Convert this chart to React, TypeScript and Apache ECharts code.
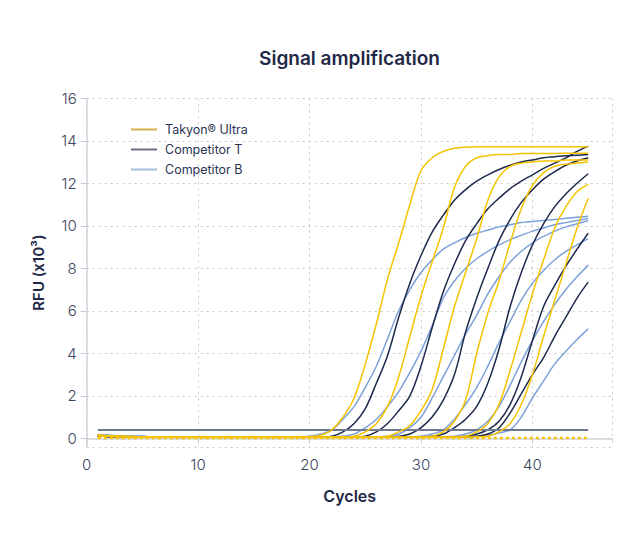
import React, { useEffect, useRef } from "react";
import * as echarts from "echarts";

const cycles = [1,2,3,4,5,6,7,8,9,10,11,12,13,14,15,16,17,18,19,20,21,22,23,24,25,26,27,28,29,30,31,32,33,34,35,36,37,38,39,40,41,42,43,44,45];

// Takyon Ultra (RFU x10^3 per cycle)
const takyon1 = [0.15,0.12,0.1,0.08,0.07,0.06,0.05,0.05,0.05,0.05, 0.05,0.05,0.05,0.05,0.05,0.05,0.05,0.05,0.05,0.08, 0.15,0.4,1.0,1.9,3.5,5.4,7.5,9.2,11.0,12.6, 13.2,13.5,13.65,13.7,13.72,13.72,13.72,13.72,13.72,13.72, 13.72,13.72,13.72,13.72,13.72];
const takyon2 = [0.14,0.11,0.09,0.08,0.07,0.06,0.05,0.05,0.05,0.05, 0.05,0.05,0.05,0.05,0.05,0.05,0.05,0.05,0.05,0.05, 0.05,0.05,0.06,0.1,0.3,0.7,1.5,2.9,4.8,6.7, 8.3,9.9,11.8,12.8,13.2,13.3,13.35,13.35,13.4,13.4, 13.4,13.4,13.42,13.42,13.42];
const takyon3 = [0.13,0.1,0.08,0.07,0.06,0.05,0.05,0.05,0.04,0.04, 0.04,0.04,0.04,0.04,0.04,0.04,0.04,0.04,0.04,0.04, 0.04,0.04,0.04,0.04,0.05,0.06,0.1,0.3,0.6,1.3, 2.3,4.2,6.2,7.8,9.4,11.2,12.3,12.8,12.95,13.0, 13.05,13.05,13.1,13.1,13.1];
const takyon4 = [0.12,0.1,0.08,0.07,0.06,0.05,0.05,0.05,0.05,0.05, 0.05,0.05,0.05,0.05,0.05,0.05,0.05,0.05,0.05,0.05, 0.05,0.05,0.05,0.05,0.05,0.05,0.05,0.05,0.06,0.07, 0.1,0.3,0.8,1.8,4.0,5.9,7.4,9.2,10.8,11.9, 12.5,12.8,12.9,12.95,13.0];
const takyon5 = [0.14,0.11,0.09,0.07,0.06,0.05,0.05,0.05,0.05,0.05, 0.05,0.05,0.05,0.05,0.05,0.05,0.05,0.05,0.05,0.05, 0.05,0.05,0.05,0.05,0.05,0.05,0.05,0.05,0.05,0.05, 0.05,0.06,0.07,0.1,0.3,0.7,1.6,3.2,5.0,6.8, 8.4,9.9,10.9,11.6,11.95];
const takyon6 = [0.13,0.1,0.08,0.07,0.06,0.05,0.05,0.05,0.05,0.05, 0.05,0.05,0.05,0.05,0.05,0.05,0.05,0.05,0.05,0.05, 0.05,0.05,0.05,0.05,0.05,0.05,0.05,0.05,0.05,0.05, 0.05,0.05,0.05,0.06,0.07,0.1,0.3,0.7,1.6,3.0, 4.8,6.5,8.2,9.9,11.3];
const takyonNtc = [0.02,0.02,0.02,0.02,0.02,0.02,0.02,0.02,0.02,0.02, 0.02,0.02,0.02,0.02,0.02,0.02,0.02,0.02,0.02,0.02, 0.02,0.02,0.02,0.02,0.02,0.02,0.02,0.02,0.02,0.02, 0.02,0.02,0.02,0.02,0.02,0.02,0.02,0.02,0.02,0.02, 0.02,0.02,0.02,0.02,0.02];

// Competitor T
const compT1 = [0.12,0.1,0.08,0.07,0.06,0.05,0.05,0.05,0.05,0.05, 0.05,0.05,0.05,0.05,0.05,0.05,0.05,0.05,0.05,0.05, 0.06,0.1,0.3,0.7,1.4,2.6,3.9,5.7,7.3,8.6, 9.7,10.5,11.2,11.7,12.1,12.4,12.65,12.85,13.0,13.1, 13.2,13.25,13.3,13.32,13.35];
const compT2 = [0.1,0.09,0.08,0.07,0.06,0.05,0.05,0.05,0.05,0.05, 0.05,0.05,0.05,0.05,0.05,0.05,0.05,0.05,0.05,0.05, 0.05,0.05,0.05,0.06,0.1,0.3,0.7,1.3,2.0,3.4, 5.2,6.9,8.2,9.3,10.1,10.8,11.3,11.75,12.1,12.4, 12.7,12.95,13.2,13.5,13.75];
const compT3 = [0.11,0.09,0.08,0.07,0.06,0.05,0.05,0.05,0.05,0.05, 0.05,0.05,0.05,0.05,0.05,0.05,0.05,0.05,0.05,0.05, 0.05,0.05,0.05,0.05,0.05,0.05,0.06,0.1,0.2,0.5, 1.0,1.8,3.0,5.0,6.6,8.0,9.3,10.3,11.1,11.7, 12.2,12.55,12.85,13.05,13.2];
const compT4 = [0.11,0.09,0.08,0.07,0.06,0.05,0.05,0.05,0.05,0.05, 0.05,0.05,0.05,0.05,0.05,0.05,0.05,0.05,0.05,0.05, 0.05,0.05,0.05,0.05,0.05,0.05,0.05,0.05,0.05,0.06, 0.1,0.2,0.5,0.9,1.5,2.6,4.2,6.2,7.8,9.1, 10.1,10.9,11.5,12.0,12.45];
const compT5 = [0.11,0.09,0.08,0.07,0.06,0.05,0.05,0.05,0.05,0.05, 0.05,0.05,0.05,0.05,0.05,0.05,0.05,0.05,0.05,0.05, 0.05,0.05,0.05,0.05,0.05,0.05,0.05,0.05,0.05,0.05, 0.05,0.05,0.06,0.1,0.2,0.4,0.8,1.6,2.9,4.6, 6.2,7.2,8.1,8.9,9.65];
const compT6 = [0.11,0.09,0.08,0.07,0.06,0.05,0.05,0.05,0.05,0.05, 0.05,0.05,0.05,0.05,0.05,0.05,0.05,0.05,0.05,0.05, 0.05,0.05,0.05,0.05,0.05,0.05,0.05,0.05,0.05,0.05, 0.05,0.05,0.05,0.06,0.1,0.2,0.5,1.2,2.1,3.0, 3.8,4.8,5.7,6.6,7.35];
const compTNtc = [0.39,0.39,0.39,0.39,0.39,0.39,0.39,0.39,0.39,0.39, 0.39,0.39,0.39,0.39,0.39,0.39,0.39,0.39,0.39,0.39, 0.39,0.39,0.39,0.39,0.39,0.39,0.39,0.39,0.39,0.39, 0.39,0.39,0.39,0.39,0.39,0.39,0.39,0.39,0.39,0.39, 0.39,0.39,0.39,0.39,0.39];

// Competitor B
const compB1 = [0.18,0.14,0.11,0.09,0.08,0.07,0.06,0.06,0.06,0.06, 0.06,0.06,0.06,0.06,0.06,0.06,0.06,0.06,0.07,0.1, 0.2,0.4,0.9,1.5,2.4,3.4,4.7,6.0,7.0,7.8, 8.4,8.9,9.2,9.45,9.65,9.8,9.95,10.05,10.15,10.2, 10.25,10.3,10.35,10.4,10.45];
const compB2 = [0.17,0.13,0.1,0.09,0.08,0.07,0.06,0.06,0.06,0.06, 0.06,0.06,0.06,0.06,0.06,0.06,0.06,0.06,0.06,0.06, 0.06,0.07,0.1,0.2,0.5,0.9,1.5,2.2,3.1,4.1, 5.3,6.6,7.4,8.0,8.45,8.8,9.1,9.35,9.55,9.75, 9.9,10.05,10.15,10.25,10.35];
const compB3 = [0.16,0.12,0.1,0.09,0.08,0.07,0.06,0.06,0.06,0.06, 0.06,0.06,0.06,0.06,0.06,0.06,0.06,0.06,0.06,0.06, 0.06,0.06,0.06,0.06,0.06,0.07,0.1,0.2,0.5,1.0, 1.9,2.9,3.9,4.9,5.8,6.8,7.6,8.3,8.8,9.2, 9.5,9.75,9.95,10.1,10.25];
const compB4 = [0.15,0.12,0.1,0.09,0.08,0.07,0.06,0.06,0.06,0.06, 0.06,0.06,0.06,0.06,0.06,0.06,0.06,0.06,0.06,0.06, 0.06,0.06,0.06,0.06,0.06,0.06,0.06,0.06,0.07,0.1, 0.2,0.4,0.9,1.6,2.4,3.4,4.5,5.5,6.5,7.3, 7.9,8.4,8.8,9.1,9.4];
const compB5 = [0.15,0.12,0.1,0.09,0.08,0.07,0.06,0.06,0.06,0.06, 0.06,0.06,0.06,0.06,0.06,0.06,0.06,0.06,0.06,0.06, 0.06,0.06,0.06,0.06,0.06,0.06,0.06,0.06,0.06,0.06, 0.06,0.07,0.1,0.2,0.4,0.8,1.5,2.5,3.6,4.6, 5.5,6.3,7.0,7.6,8.15];
const compB6 = [0.15,0.12,0.1,0.09,0.08,0.07,0.06,0.06,0.06,0.06, 0.06,0.06,0.06,0.06,0.06,0.06,0.06,0.06,0.06,0.06, 0.06,0.06,0.06,0.06,0.06,0.06,0.06,0.06,0.06,0.06, 0.06,0.06,0.06,0.07,0.1,0.15,0.25,0.4,1.0,1.9, 2.7,3.5,4.1,4.65,5.15];

const NAME_TAKYON = "Takyon® Ultra";
const NAME_T = "Competitor T";
const NAME_B = "Competitor B";

const takyonCurves = [takyon1, takyon2, takyon3, takyon4, takyon5, takyon6];
const compTCurves = [compT1, compT2, compT3, compT4, compT5, compT6];
const compBCurves = [compB1, compB2, compB3, compB4, compB5, compB6];

const COLOR_Y = "#f5c300";
const COLOR_T = "#1e2a4c";
const COLOR_B = "#7da1da";
const FONT = "Inter, 'Noto Sans', sans-serif";
const LEGEND_ICON = "path://M0,0h26v2h-26z";

function pairs(values: number[]) {
  return cycles.map((c, i) => [c, values[i]]);
}

export default function App() {
  const ref = useRef<HTMLDivElement>(null);
  useEffect(() => {
    document.body.style.margin = "0";
    if (!ref.current) return;
    const chart = echarts.init(ref.current, undefined, { renderer: "svg" });
    const base = {
      type: "line",
      symbol: "none",
      showSymbol: false,
      smooth: 0.35,
      emphasis: { disabled: true },
    };
    const series: any[] = [];
    compBCurves.forEach((v) =>
      series.push({ ...base, name: NAME_B, data: pairs(v), lineStyle: { color: COLOR_B, width: 1.5 }, itemStyle: { color: COLOR_B } })
    );
    compTCurves.forEach((v) =>
      series.push({ ...base, name: NAME_T, data: pairs(v), lineStyle: { color: COLOR_T, width: 1.5 }, itemStyle: { color: COLOR_T } })
    );
    series.push({ ...base, smooth: false, name: NAME_T, data: pairs(compTNtc), lineStyle: { color: "#6f7891", width: 2 }, itemStyle: { color: "#6f7891" } });
    takyonCurves.forEach((v) =>
      series.push({ ...base, name: NAME_TAKYON, data: pairs(v), lineStyle: { color: COLOR_Y, width: 1.5 }, itemStyle: { color: COLOR_Y } })
    );
    series.push({ ...base, smooth: false, name: NAME_TAKYON, data: pairs(takyonNtc), lineStyle: { color: COLOR_Y, width: 2.5, type: [3, 3] }, itemStyle: { color: COLOR_Y } });

    chart.setOption({
      animation: false,
      textStyle: { fontFamily: FONT },
      graphic: [
        {
          type: "text",
          x: 349.5,
          y: 58,
          style: {
            text: "Signal amplification",
            fontFamily: FONT,
            fontSize: 19,
            fontWeight: 600,
            fill: "#1f2847",
            textAlign: "center",
            textVerticalAlign: "middle",
          },
        },
      ],
      legend: {
        orient: "vertical",
        left: 126,
        top: 118,
        itemWidth: 26,
        itemHeight: 14,
        itemGap: 7,
        selectedMode: false,
        textStyle: { fontFamily: FONT, fontSize: 12.5, color: "#2a3352", padding: [0, 0, 0, 3] },
        data: [
          { name: NAME_TAKYON, icon: LEGEND_ICON, itemStyle: { color: "#d3b24f" } },
          { name: NAME_T, icon: LEGEND_ICON, itemStyle: { color: "#6b7088" } },
          { name: NAME_B, icon: LEGEND_ICON, itemStyle: { color: "#a7bde2" } },
        ],
      },
      grid: { left: 86.7, right: 27.3, top: 98.3, bottom: 112.2, containLabel: false },
      xAxis: {
        type: "value",
        min: 0,
        max: 47.2,
        interval: 10,
        name: "Cycles",
        nameLocation: "middle",
        nameGap: 41,
        nameTextStyle: { fontFamily: FONT, fontSize: 16, fontWeight: 600, color: "#1f2847" },
        axisLine: { show: true, lineStyle: { color: "#cfd3dc", width: 1.5 } },
        axisTick: { show: true, length: 5, lineStyle: { color: "#c3c8d3" } },
        axisLabel: { fontFamily: FONT, fontSize: 15, fontWeight: 300, color: "#3c4560", margin: 10, showMaxLabel: false },
        splitLine: { show: true, lineStyle: { color: "#c9c9c9", type: [2, 4], width: 1 } },
      },
      yAxis: {
        type: "value",
        min: -0.4,
        max: 16,
        splitNumber: 8,
        name: "RFU (x10³)",
        nameLocation: "middle",
        nameGap: 41,
        nameTextStyle: { fontFamily: FONT, fontSize: 15, fontWeight: 600, color: "#1f2847" },
        axisLine: { show: true, lineStyle: { color: "#cfd3dc", width: 1.5 } },
        axisTick: { show: true, length: 6, lineStyle: { color: "#c3c8d3" } },
        axisLabel: { fontFamily: FONT, fontSize: 15, fontWeight: 300, color: "#3c4560", margin: 10, showMinLabel: false },
        splitLine: { show: true, lineStyle: { color: "#c9c9c9", type: [2, 4], width: 1 } },
      },
      series,
    });
    return () => chart.dispose();
  }, []);
  return <div ref={ref} style={{ width: 640, height: 559 }} />;
}
